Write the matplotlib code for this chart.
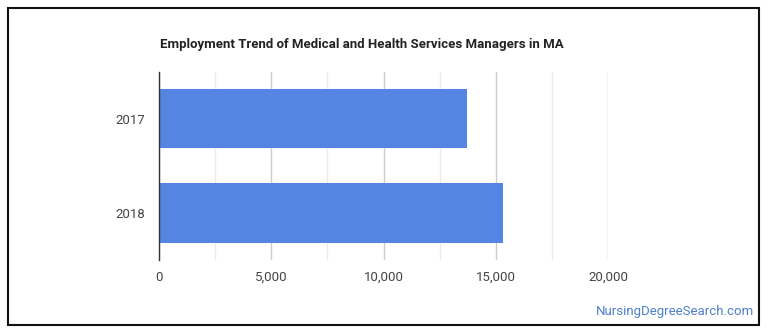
import matplotlib.pyplot as plt
from matplotlib.patches import Rectangle
from matplotlib.ticker import MultipleLocator, FuncFormatter

plt.rcParams["font.family"] = ["Roboto", "DejaVu Sans"]

years = ["2017", "2018"]
employment = [13730, 15330]
title = "Employment Trend of Medical and Health Services Managers in MA"

W, H = 770, 335
fig = plt.figure(figsize=(W / 100, H / 100), dpi=100)
ax = fig.add_axes([159 / W, (H - 260) / H, (608 - 159) / W, (260 - 71.7) / H])

ax.barh(range(len(years)), employment, height=0.63, color="#5485e2", zorder=3)
ax.set_ylim(1.5, -0.5)
ax.set_xlim(0, 20000)
ax.set_yticks(range(len(years)))
ax.set_yticklabels(years)

ax.xaxis.set_major_locator(MultipleLocator(5000))
ax.xaxis.set_minor_locator(MultipleLocator(2500))
ax.xaxis.set_major_formatter(FuncFormatter(lambda v, p: f"{int(v):,}"))
ax.grid(axis="x", which="major", color="#cccccc", linewidth=1, zorder=0)
ax.grid(axis="x", which="minor", color="#ebebeb", linewidth=1, zorder=0)
ax.tick_params(axis="both", which="both", length=0, labelsize=9.5, labelcolor="#444444")
ax.tick_params(axis="x", pad=8)
ax.tick_params(axis="y", pad=10)

for side in ["top", "right", "bottom"]:
    ax.spines[side].set_visible(False)
ax.spines["left"].set_color("#333333")
ax.spines["left"].set_linewidth(1)
ax.spines["left"].set_zorder(4)

fig.text(160 / W, 1 - 48 / H, title, fontsize=9.5, fontweight="bold", color="#222222",
         ha="left", va="baseline")
fig.text(754 / W, 1 - 312 / H, "NursingDegreeSearch.com", fontsize=9.5, color="#4f7fcf",
         ha="right", va="center")

# outer frame
fig.patches.append(Rectangle((8 / W, 1 - 325 / H), (759 - 8) / W, (325 - 8) / H,
                             transform=fig.transFigure, fill=False,
                             edgecolor="#111111", linewidth=1.5))

fig.savefig("out.png", dpi=100)
